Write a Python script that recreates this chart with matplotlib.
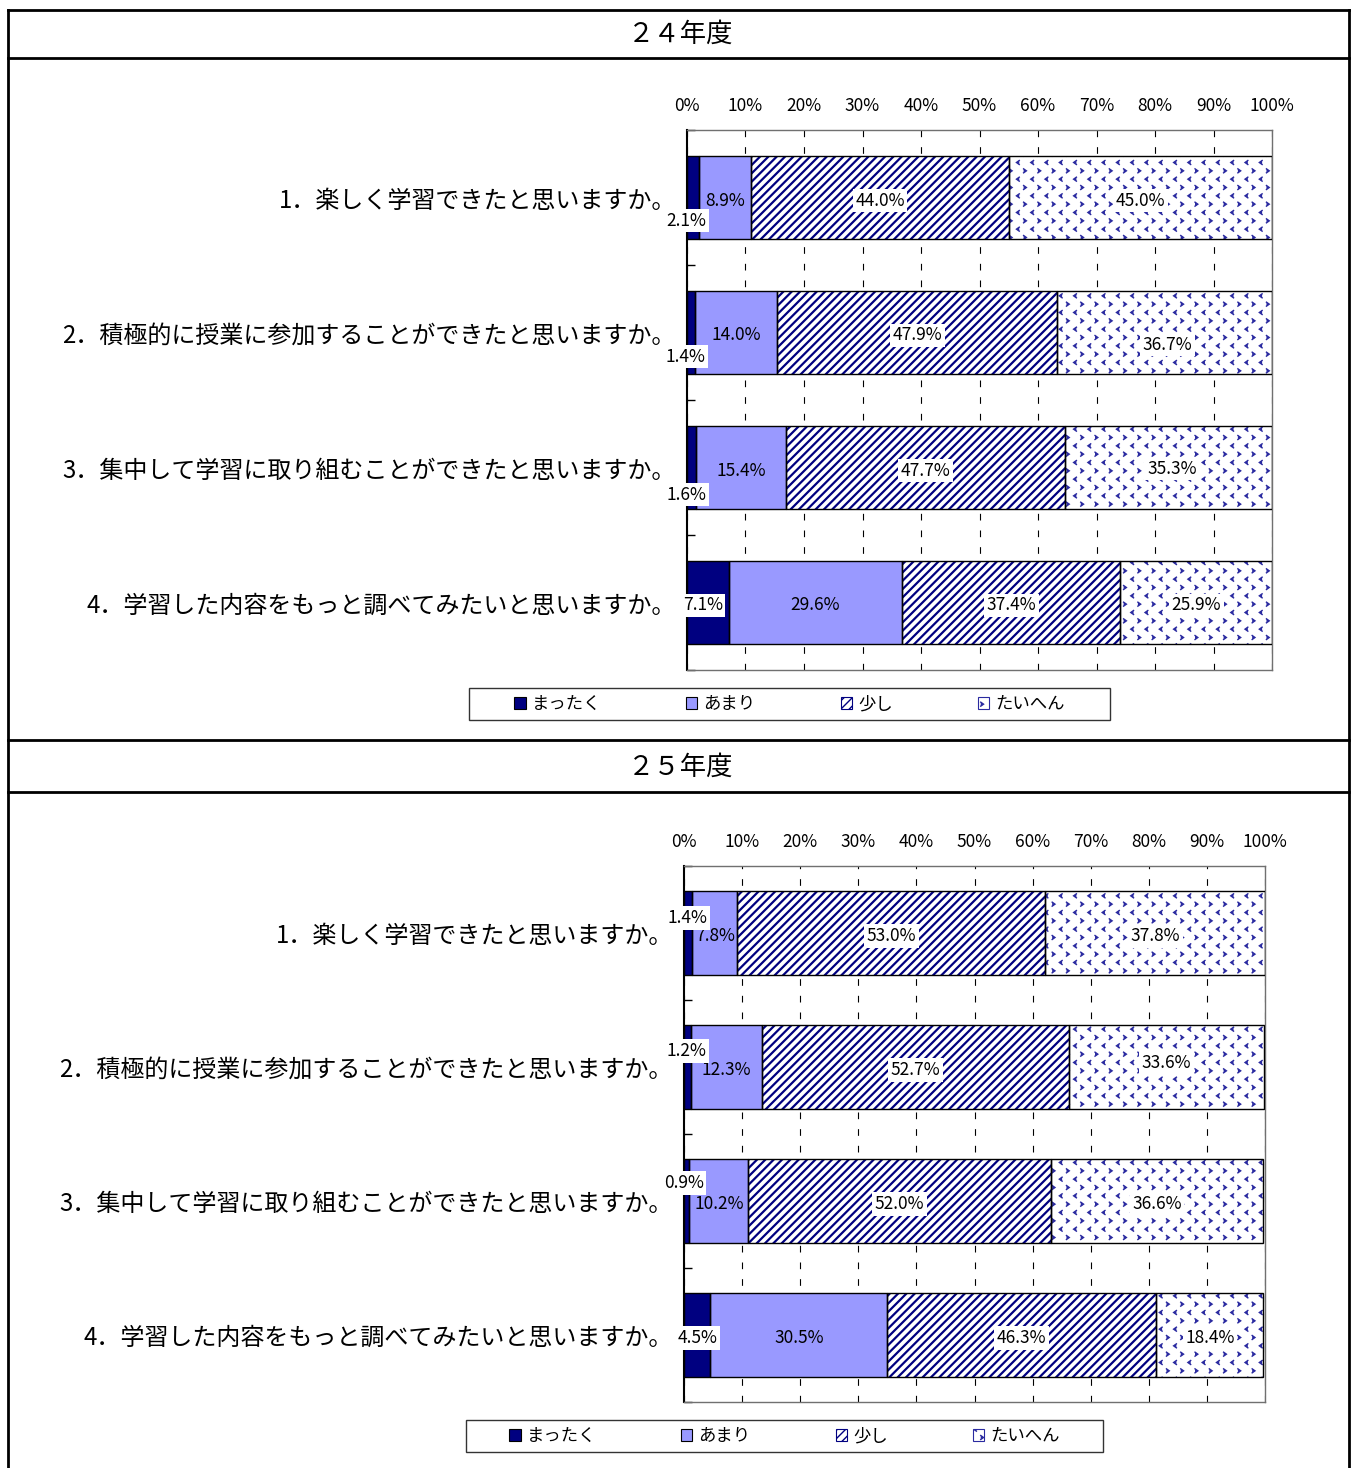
import matplotlib
matplotlib.use('Agg')
import matplotlib.pyplot as plt
import matplotlib.hatch as mhatch
from matplotlib.patches import Patch, Rectangle
from matplotlib.lines import Line2D
from matplotlib.path import Path
import numpy as np

plt.rcParams['font.family'] = ['Noto Sans CJK JP', 'DejaVu Sans']

# Survey questions and answer levels
questions = [
    '1．楽しく学習できたと思いますか。',
    '2．積極的に授業に参加することができたと思いますか。',
    '3．集中して学習に取り組むことができたと思いますか。',
    '4．学習した内容をもっと調べてみたいと思いますか。',
]
levels = ['まったく', 'あまり', '少し', 'たいへん']
years = ['２４年度', '２５年度']

# Percentages per level (rows follow `levels`, columns follow `questions`)
h24_mattaku = [2.1, 1.4, 1.6, 7.1]
h24_amari = [8.9, 14.0, 15.4, 29.6]
h24_sukoshi = [44.0, 47.9, 47.7, 37.4]
h24_taihen = [45.0, 36.7, 35.3, 25.9]

h25_mattaku = [1.4, 1.2, 0.9, 4.5]
h25_amari = [7.8, 12.3, 10.2, 30.5]
h25_sukoshi = [53.0, 52.7, 52.0, 46.3]
h25_taihen = [37.8, 33.6, 36.6, 18.4]

ticks = list(range(0, 101, 10))
tick_labels = [f'{t}%' for t in ticks]


class ChevronHatch(mhatch.HatchPatternBase):
    """Staggered rows of small '<' / '>' marks, selected with the '*' hatch."""
    cols, rows = 7, 12

    def __init__(self, hatch, density):
        self.on = hatch.count('*') > 0
        self.num_vertices = self.cols * self.rows * 3 if self.on else 0

    def set_vertices_and_codes(self, vertices, codes):
        w, h = 0.014, 0.02
        verts = []
        for r in range(self.rows):
            yc = (r + 0.5) / self.rows
            sgn = -1 if r % 2 == 0 else 1
            for c in range(self.cols):
                xc = (c + 0.25 + 0.5 * (r % 2)) / self.cols
                verts += [(xc - sgn * w, yc + h), (xc + sgn * w, yc), (xc - sgn * w, yc - h)]
        vertices[:] = np.array(verts)
        codes[:] = np.tile([Path.MOVETO, Path.LINETO, Path.LINETO], self.cols * self.rows)


mhatch._hatch_types[:] = [t for t in mhatch._hatch_types if t is not mhatch.Stars] + [ChevronHatch]

W, H = 1356, 1468
fig = plt.figure(figsize=(W / 100, H / 100), dpi=100)


def fx(px):
    return px / W


def fy(py):
    return 1 - py / H


NAVY = '#000080'
LAV = '#9999FF'
styles = [
    dict(fc=NAVY, hc=NAVY, hatch=None, hlw=1.0),
    dict(fc=LAV, hc=LAV, hatch=None, hlw=1.0),
    dict(fc='white', hc=NAVY, hatch='////', hlw=1.6),
    dict(fc='white', hc='#2a2aa0', hatch='*', hlw=1.0),
]

# label nudges in pixels (right, down) for labels moved off their segment centre
nudge_24 = {(0, 0): (-7, 20), (0, 1): (-6, 21), (0, 2): (-5, 24), (0, 3): (-5, 0),
            (3, 1): (3, 9), (3, 2): (3, -2)}
nudge_25 = {(0, 0): (-1, -18), (0, 1): (-1, -19), (0, 2): (-3, -21),
            (3, 1): (0, -7)}


def draw_panel(rect, series, nudges, legend_px):
    ax = fig.add_axes(rect)
    y = np.arange(len(questions))
    left = np.zeros(len(questions))
    for k, vals in enumerate(series):
        vals = np.asarray(vals, dtype=float)
        st = styles[k]
        with plt.rc_context({'hatch.linewidth': st['hlw']}):
            ax.barh(y, vals, left=left, height=0.62, facecolor=st['fc'],
                    edgecolor=st['hc'], hatch=st['hatch'], linewidth=0, zorder=2)
        ax.barh(y, vals, left=left, height=0.62, fill=False,
                edgecolor='black', linewidth=1.0, zorder=3)
        for i, v in enumerate(vals):
            dx, dy = nudges.get((k, i), (0, 0))
            box = None if k == 1 else dict(boxstyle='square,pad=0.15', fc='white', ec='none')
            ax.annotate(f'{v:.1f}%', xy=(left[i] + v / 2, i), xytext=(dx, -dy - 3),
                        textcoords='offset pixels', ha='center', va='center',
                        fontsize=12.5, bbox=box, zorder=6 if k == 0 else 5)
        left += vals

    ax.set_xlim(0, 100)
    ax.set_ylim(3.5, -0.5)
    ax.xaxis.tick_top()
    ax.set_xticks(ticks, tick_labels)
    ax.tick_params(axis='x', length=0, pad=11, labelsize=12.5)
    ax.set_yticks(y, questions)
    ax.tick_params(axis='y', which='major', length=0, pad=8, labelsize=17.3)
    ax.set_yticks(np.arange(-0.5, len(questions), 1.0), minor=True)
    ax.tick_params(axis='y', which='minor', direction='in', length=6, width=1, color='black')
    ax.grid(axis='x', color='black', linestyle=(0, (6, 9)), linewidth=0.8)
    ax.set_axisbelow(True)
    for side in ['top', 'right', 'bottom']:
        ax.spines[side].set_color('#707070')
        ax.spines[side].set_linewidth(1.0)
    ax.spines['left'].set_color('black')
    ax.spines['left'].set_linewidth(1.5)

    handles = []
    for s in styles:
        with plt.rc_context({'hatch.linewidth': 1.0}):
            handles.append(Patch(facecolor=s['fc'],
                                 edgecolor=s['hc'] if s['hatch'] else 'black',
                                 hatch=s['hatch'], linewidth=0.8))
    x0, y0, x1, y1 = legend_px
    fig.add_artist(Rectangle((fx(x0), fy(y1)), fx(x1) - fx(x0), (y1 - y0) / H,
                             transform=fig.transFigure, facecolor='white',
                             edgecolor='#333333', linewidth=1.0))
    fig.legend(handles, levels, loc='center',
               bbox_to_anchor=(fx((x0 + x1) / 2), fy((y0 + y1) / 2)),
               ncol=4, frameon=False, fontsize=12.5, handlelength=0.65,
               handleheight=0.65, handletextpad=0.35, columnspacing=4.9,
               borderaxespad=0, borderpad=0)
    return ax


draw_panel([fx(687), fy(670), fx(1272) - fx(687), (670 - 130) / H],
           [h24_mattaku, h24_amari, h24_sukoshi, h24_taihen], nudge_24,
           (469, 688, 1110, 720))
draw_panel([fx(684), fy(1402), fx(1265) - fx(684), (1402 - 866) / H],
           [h25_mattaku, h25_amari, h25_sukoshi, h25_taihen], nudge_25,
           (466, 1420, 1103, 1452))

# table frame around both panels
for py in [10, 58, 740, 792]:
    fig.add_artist(Line2D([fx(8), fx(1349)], [fy(py), fy(py)], color='black',
                          lw=2, transform=fig.transFigure))
for px in [8, 1349]:
    fig.add_artist(Line2D([fx(px), fx(px)], [fy(10), 0], color='black',
                          lw=2, transform=fig.transFigure))

fig.text(fx(681), fy(34), years[0], ha='center', va='center', fontsize=19)
fig.text(fx(681), fy(767), years[1], ha='center', va='center', fontsize=19)

fig.savefig('out.png', dpi=100, facecolor='white')
